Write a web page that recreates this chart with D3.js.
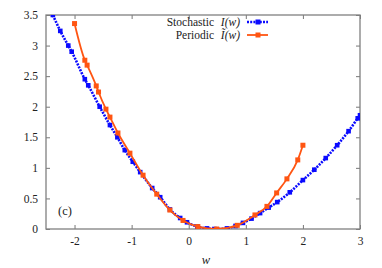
<!DOCTYPE html>
<html>
<head>
<meta charset="utf-8">
<script src="https://cdn.jsdelivr.net/npm/d3@7"></script>
<style>
  body { margin: 0; background: #fff; }
  text { font-family: "Liberation Serif", "DejaVu Serif", serif; fill: #222; }
</style>
</head>
<body>
<div id="chart"></div>
<script>
// Stochastic I(w)
const stochW = [-2.38, -2.25, -2.11, -2.05, -1.82, -1.76, -1.56, -1.38, -1.25, -1.12, -0.98, -0.85,
    -0.64, -0.5, -0.33, -0.15, -0.03, 0.15, 0.32, 0.45, 0.67, 0.82, 0.95, 1.1, 1.25, 1.4, 1.55,
    1.77, 2.0, 2.2, 2.4, 2.6, 2.8, 2.96, 3.0];
const stochI = [3.5, 3.24, 3.0, 2.9, 2.45, 2.35, 2.0, 1.70, 1.50, 1.29, 1.10, 0.93,
    0.67, 0.52, 0.32, 0.18, 0.11, 0.04, 0.01, 0.0, 0.01, 0.05, 0.10, 0.17, 0.26, 0.35, 0.44,
    0.60, 0.80, 0.97, 1.16, 1.37, 1.60, 1.81, 1.86];

// Periodic I~(w)
const perW = [-2.0, -1.82, -1.78, -1.62, -1.58, -1.45, -1.38, -1.24, -1.03, -0.80, -0.56, -0.33,
    -0.10, 0.16, 0.49, 0.85, 1.16, 1.37, 1.54, 1.72, 1.91, 2.0];
const perI = [3.36, 2.76, 2.68, 2.34, 2.24, 1.96, 1.83, 1.57, 1.24, 0.88, 0.57, 0.31,
    0.14, 0.04, 0.0, 0.06, 0.23, 0.37, 0.59, 0.82, 1.13, 1.37];

const xTicks = [-2, -1, 0, 1, 2, 3];
const yTicks = [0, 0.5, 1, 1.5, 2, 2.5, 3, 3.5];

const width = 382, height = 268;
const margin = { top: 15, right: 22, bottom: 39, left: 46 };

const svg = d3.select("#chart").append("svg")
    .attr("width", width)
    .attr("height", height);

const x = d3.scaleLinear().domain([-2.5, 3]).range([margin.left, width - margin.right]);
const y = d3.scaleLinear().domain([0, 3.5]).range([height - margin.bottom, margin.top]);

const blue = "#0a0aff", orange = "#ff5512";

svg.append("clipPath").attr("id", "clip")
    .append("rect")
    .attr("x", margin.left).attr("y", margin.top)
    .attr("width", x.range()[1] - margin.left)
    .attr("height", y.range()[0] - margin.top);

// axes, ticks inside, mirrored
const frame = "#808080";
function styleAxis(g) {
    g.select(".domain").remove();
    g.selectAll(".tick line").attr("stroke", "#555").attr("stroke-width", 0.8);
    g.selectAll(".tick text").attr("font-size", 11.5).attr("fill", "#222");
}
svg.append("g")
    .attr("transform", "translate(0," + y(0) + ")")
    .call(d3.axisBottom(x).tickValues(xTicks).tickSizeInner(-4).tickSizeOuter(0).tickPadding(8)
        .tickFormat(d => String(d)))
    .call(styleAxis);
svg.append("g")
    .attr("transform", "translate(0," + y(3.5) + ")")
    .call(d3.axisTop(x).tickValues(xTicks).tickSizeInner(-4).tickFormat(""))
    .call(styleAxis);
svg.append("g")
    .attr("transform", "translate(" + x(-2.5) + ",0)")
    .call(d3.axisLeft(y).tickValues(yTicks).tickSizeInner(-4).tickPadding(8).tickFormat(d => String(d)))
    .call(styleAxis);
svg.append("g")
    .attr("transform", "translate(" + x(3) + ",0)")
    .call(d3.axisRight(y).tickValues(yTicks).tickSizeInner(-4).tickFormat(""))
    .call(styleAxis);

svg.append("rect")
    .attr("x", x(-2.5)).attr("y", y(3.5))
    .attr("width", x(3) - x(-2.5)).attr("height", y(0) - y(3.5))
    .attr("fill", "none").attr("stroke", frame).attr("stroke-width", 1.3);

const stoch = stochW.map((w, i) => ({ w: w, v: stochI[i] }));
const per = perW.map((w, i) => ({ w: w, v: perI[i] }));

const line = d3.line().x(d => x(d.w)).y(d => y(d.v)).curve(d3.curveMonotoneX);

const plot = svg.append("g").attr("clip-path", "url(#clip)");

// stochastic: dotted blue with square points
plot.append("path")
    .datum(stoch)
    .attr("d", line)
    .attr("fill", "none")
    .attr("stroke", blue)
    .attr("stroke-width", 2.6)
    .attr("stroke-dasharray", "2,1.2");

plot.selectAll(".stoch-pt")
    .data(stoch)
    .enter()
    .append("rect")
    .attr("class", "stoch-pt")
    .attr("x", d => x(d.w) - 2.3)
    .attr("y", d => y(d.v) - 2.3)
    .attr("width", 4.6)
    .attr("height", 4.6)
    .attr("fill", blue);

// periodic: solid orange with square points
plot.append("path")
    .datum(per)
    .attr("d", line)
    .attr("fill", "none")
    .attr("stroke", orange)
    .attr("stroke-width", 1.8);

plot.selectAll(".per-pt")
    .data(per)
    .enter()
    .append("rect")
    .attr("class", "per-pt")
    .attr("x", d => x(d.w) - 2.5)
    .attr("y", d => y(d.v) - 2.5)
    .attr("width", 5)
    .attr("height", 5)
    .attr("fill", orange);

// legend
const legend = [
    { label: "Stochastic", sym: "I(w)", color: blue, dash: "2,1.2", w: 2.6, ty: 25.5 },
    { label: "Periodic", sym: "\u0128(w)", color: orange, dash: null, w: 1.8, ty: 38.5 }
];
legend.forEach(d => {
    svg.append("text")
        .attr("x", 240).attr("y", d.ty)
        .attr("text-anchor", "end")
        .attr("font-size", 11.5)
        .attr("font-style", "italic")
        .text(d.sym);
    svg.append("text")
        .attr("x", 214).attr("y", d.ty)
        .attr("text-anchor", "end")
        .attr("font-size", 11.5)
        .text(d.label);
    svg.append("line")
        .attr("x1", 247).attr("x2", 268)
        .attr("y1", d.ty - 3.5).attr("y2", d.ty - 3.5)
        .attr("stroke", d.color)
        .attr("stroke-width", d.w)
        .attr("stroke-dasharray", d.dash);
    svg.append("rect")
        .attr("x", 258 - 2.5).attr("y", d.ty - 3.5 - 2.5)
        .attr("width", 5).attr("height", 5)
        .attr("fill", d.color);
});

// panel tag
svg.append("text")
    .attr("x", 58).attr("y", 215)
    .attr("font-size", 12.5)
    .text("(c)");

// axis title
svg.append("text")
    .attr("x", x(0.3)).attr("y", 264)
    .attr("text-anchor", "middle")
    .attr("font-size", 12.5)
    .attr("font-style", "italic")
    .text("w");
</script>
</body>
</html>
